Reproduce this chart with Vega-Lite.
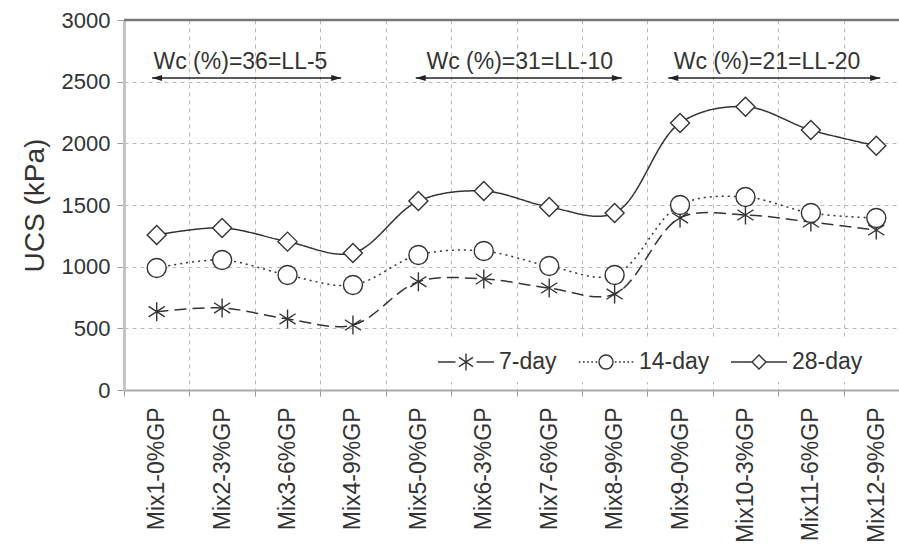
{
  "$schema": "https://vega.github.io/schema/vega-lite/v6.json",
  "width": 775,
  "height": 370,
  "autosize": {"type": "none"},
  "padding": {"left": 124, "top": 20, "right": 0, "bottom": 162},
  "background": "white",
  "config": {
    "view": {"stroke": null},
    "font": "Liberation Sans",
    "text": {"font": "Liberation Sans"}
  },
  "layer": [
    {
      "data": {
        "values": [
          {"mix": "Mix1-0%GP", "series": "7-day", "ucs": 635},
          {"mix": "Mix2-3%GP", "series": "7-day", "ucs": 665},
          {"mix": "Mix3-6%GP", "series": "7-day", "ucs": 576},
          {"mix": "Mix4-9%GP", "series": "7-day", "ucs": 527},
          {"mix": "Mix5-0%GP", "series": "7-day", "ucs": 878},
          {"mix": "Mix6-3%GP", "series": "7-day", "ucs": 900},
          {"mix": "Mix7-6%GP", "series": "7-day", "ucs": 827},
          {"mix": "Mix8-9%GP", "series": "7-day", "ucs": 778},
          {"mix": "Mix9-0%GP", "series": "7-day", "ucs": 1395},
          {"mix": "Mix10-3%GP", "series": "7-day", "ucs": 1419},
          {"mix": "Mix11-6%GP", "series": "7-day", "ucs": 1362},
          {"mix": "Mix12-9%GP", "series": "7-day", "ucs": 1297},
          {"mix": "Mix1-0%GP", "series": "14-day", "ucs": 989},
          {"mix": "Mix2-3%GP", "series": "14-day", "ucs": 1054},
          {"mix": "Mix3-6%GP", "series": "14-day", "ucs": 932},
          {"mix": "Mix4-9%GP", "series": "14-day", "ucs": 851},
          {"mix": "Mix5-0%GP", "series": "14-day", "ucs": 1095},
          {"mix": "Mix6-3%GP", "series": "14-day", "ucs": 1127},
          {"mix": "Mix7-6%GP", "series": "14-day", "ucs": 1005},
          {"mix": "Mix8-9%GP", "series": "14-day", "ucs": 932},
          {"mix": "Mix9-0%GP", "series": "14-day", "ucs": 1500},
          {"mix": "Mix10-3%GP", "series": "14-day", "ucs": 1565},
          {"mix": "Mix11-6%GP", "series": "14-day", "ucs": 1435},
          {"mix": "Mix12-9%GP", "series": "14-day", "ucs": 1394},
          {"mix": "Mix1-0%GP", "series": "28-day", "ucs": 1257},
          {"mix": "Mix2-3%GP", "series": "28-day", "ucs": 1314},
          {"mix": "Mix3-6%GP", "series": "28-day", "ucs": 1203},
          {"mix": "Mix4-9%GP", "series": "28-day", "ucs": 1111},
          {"mix": "Mix5-0%GP", "series": "28-day", "ucs": 1532},
          {"mix": "Mix6-3%GP", "series": "28-day", "ucs": 1613},
          {"mix": "Mix7-6%GP", "series": "28-day", "ucs": 1484},
          {"mix": "Mix8-9%GP", "series": "28-day", "ucs": 1435},
          {"mix": "Mix9-0%GP", "series": "28-day", "ucs": 2165},
          {"mix": "Mix10-3%GP", "series": "28-day", "ucs": 2297},
          {"mix": "Mix11-6%GP", "series": "28-day", "ucs": 2108},
          {"mix": "Mix12-9%GP", "series": "28-day", "ucs": 1981}
        ]
      },
      "encoding": {
        "x": {
          "field": "mix",
          "type": "nominal",
          "sort": null,
          "scale": {"type": "band", "range": [0, 785], "paddingInner": 0, "paddingOuter": 0},
          "axis": {
            "title": null,
            "labelAngle": -90,
            "labelAlign": "right",
            "labelBaseline": "middle",
            "labelFontSize": 23,
            "labelColor": "#333",
            "labelPadding": 11,
            "labelOverlap": false,
            "tickSize": 6,
            "tickColor": "#999",
            "tickBand": "extent",
            "domainColor": "#aaa",
            "domainWidth": 2,
            "grid": true,
            "gridDash": [4, 4],
            "gridColor": "#b8b8b8",
            "gridWidth": 1
          }
        },
        "y": {
          "field": "ucs",
          "type": "quantitative",
          "scale": {"domain": [0, 3000], "nice": false},
          "axis": {
            "values": [0, 500, 1000, 1500, 2000, 2500, 3000],
            "format": "d",
            "title": "UCS (kPa)",
            "titleFontSize": 28,
            "titleFontWeight": "normal",
            "titleColor": "#333",
            "titlePadding": 12,
            "labelFontSize": 22,
            "labelColor": "#333",
            "labelPadding": 7,
            "tickSize": 7,
            "tickColor": "#999",
            "domainColor": "#c4c4c4",
            "domainWidth": 3,
            "grid": true,
            "gridDash": [4, 4],
            "gridColor": "#b8b8b8",
            "gridWidth": 1
          }
        }
      },
      "layer": [
        {
          "mark": {"type": "line", "interpolate": "catmull-rom", "stroke": "#333", "strokeWidth": 1.5},
          "encoding": {
            "strokeDash": {
              "field": "series",
              "type": "nominal",
              "scale": {"domain": ["28-day", "14-day", "7-day"], "range": [[1, 0], [2, 4], [12, 6]]},
              "legend": null
            }
          }
        },
        {
          "mark": {"type": "point", "filled": true, "stroke": "#333", "strokeWidth": 1.4, "size": 361, "opacity": 1},
          "encoding": {
            "shape": {
              "field": "series",
              "type": "nominal",
              "scale": {
                "domain": ["14-day", "7-day", "28-day"],
                "range": ["circle", "M0,-1L0,1M-0.85,-0.55L0.85,0.55M-0.85,0.55L0.85,-0.55", "diamond"]
              },
              "legend": null
            },
            "fill": {
              "field": "series",
              "type": "nominal",
              "scale": {"domain": ["7-day", "14-day", "28-day"], "range": ["white", "white", "white"]},
              "legend": {
                "title": null,
                "orient": "none",
                "legendX": 319,
                "legendY": 319,
                "direction": "horizontal",
                "fillColor": "white",
                "padding": 8,
                "symbolSize": 784,
                "symbolStrokeWidth": 1.4,
                "symbolStrokeColor": "#333",
                "symbolType": {
                  "expr": "datum.value === '7-day' ? 'M-2,0L-0.75,0M0.75,0L2,0M0,-0.6L0,0.6M-0.5,-0.33L0.5,0.33M-0.5,0.33L0.5,-0.33' : datum.value === '14-day' ? 'M-1.95,0L-1.83,0M-1.65,0L-1.53,0M-1.35,0L-1.23,0M-1.05,0L-0.93,0M-0.75,0L-0.63,0M0.63,0L0.75,0M0.93,0L1.05,0M1.23,0L1.35,0M1.53,0L1.65,0M1.83,0L1.95,0M0.5,0A0.5,0.5 0 1,1 -0.5,0A0.5,0.5 0 1,1 0.5,0Z' : 'M-2,0L-0.5,0M0.5,0L2,0M-0.5,0L0,-0.5L0.5,0L0,0.5Z'"
                },
                "labelFontSize": 23,
                "labelColor": "#333",
                "labelOffset": 18,
                "columnPadding": 18,
                "encode": {
                  "symbols": {
                    "stroke": {"value": "#333"},
                    "strokeWidth": {"value": 1.4},
                    "opacity": {"value": 1}
                  }
                }
              }
            }
          }
        }
      ]
    },
    {
      "data": {"values": [{"edge": "top"}]},
      "mark": {"type": "rule", "stroke": "#777", "strokeWidth": 2.5},
      "encoding": {"y": {"datum": 3000}}
    },
    {
      "data": {
        "values": [
          {"label": "Wc (%)=36=LL-5", "from": 0.43, "to": 3.32, "mid": 1.78},
          {"label": "Wc (%)=31=LL-10", "from": 4.46, "to": 7.61, "mid": 6.05},
          {"label": "Wc (%)=21=LL-20", "from": 8.32, "to": 11.56, "mid": 9.83}
        ]
      },
      "layer": [
        {
          "mark": {"type": "rule", "stroke": "#222", "strokeWidth": 1.6},
          "encoding": {
            "x": {"field": "from", "type": "quantitative", "scale": {"domain": [0, 12], "range": [0, 785], "nice": false, "zero": false}, "axis": null},
            "x2": {"field": "to"},
            "y": {"datum": 2530}
          }
        },
        {
          "mark": {"type": "point", "shape": "M0,0L2,-0.6L2,0.6Z", "size": 100, "filled": true, "fill": "#222", "strokeWidth": 0, "opacity": 1},
          "encoding": {
            "x": {"field": "from", "type": "quantitative", "scale": {"domain": [0, 12], "range": [0, 785], "nice": false, "zero": false}, "axis": null},
            "y": {"datum": 2530}
          }
        },
        {
          "mark": {"type": "point", "shape": "M0,0L-2,-0.6L-2,0.6Z", "size": 100, "filled": true, "fill": "#222", "strokeWidth": 0, "opacity": 1},
          "encoding": {
            "x": {"field": "to", "type": "quantitative", "scale": {"domain": [0, 12], "range": [0, 785], "nice": false, "zero": false}, "axis": null},
            "y": {"datum": 2530}
          }
        },
        {
          "mark": {"type": "text", "fontSize": 23, "baseline": "alphabetic", "align": "center", "dy": -9, "color": "#333"},
          "encoding": {
            "x": {"field": "mid", "type": "quantitative", "scale": {"domain": [0, 12], "range": [0, 785], "nice": false, "zero": false}, "axis": null},
            "y": {"datum": 2530},
            "text": {"field": "label"}
          }
        }
      ]
    }
  ],
  "resolve": {"scale": {"x": "independent"}, "axis": {"x": "independent"}}
}
